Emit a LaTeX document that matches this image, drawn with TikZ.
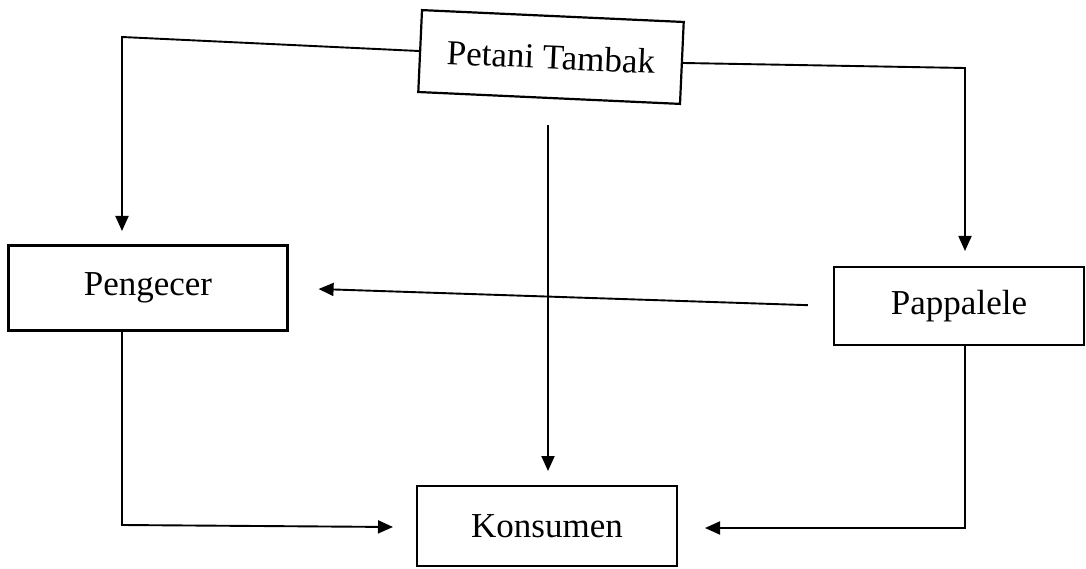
\documentclass[tikz,border=0pt]{standalone}
\usepackage{fontspec}
\setmainfont{Liberation Serif}
\usetikzlibrary{arrows.meta}
\begin{document}
\begin{tikzpicture}[x=1pt,y=-1pt,
  box/.style={draw,line width=2.2pt,inner sep=0pt,font=\fontsize{35}{40}\selectfont},
  conn/.style={line width=1.9pt},
  arr/.style={conn,-{Triangle[length=15pt,width=13pt]}}]
\useasboundingbox (0,0) rectangle (1086,569);
\node[box,minimum width=262pt,minimum height=82pt,rotate=-2.6] (pt) at (551,57) {Petani Tambak};
\node[box,minimum width=279pt,minimum height=85pt] (pen) at (148,288) {Pengecer};
\node[box,minimum width=250pt,minimum height=78pt] (pap) at (959,306) {Pappalele};
\node[box,minimum width=260pt,minimum height=80pt] (kon) at (547,526) {Konsumen};
% Petani -> Pengecer
\coordinate (a1) at (122,37);
\coordinate (a2) at (122,231);
\draw[arr] (pt.west) -- (a1) -- (a2);
% Petani -> Pappalele
\coordinate (b1) at (965,68);
\coordinate (b2) at (965,251);
\draw[arr] (pt.east) -- (b1) -- (b2);
% Petani -> Konsumen
\coordinate (c0) at (548,125);
\coordinate (c1) at (548,471);
\draw[arr] (c0) -- (c1);
% Pappalele -> Pengecer
\draw[arr,shorten <=25pt,shorten >=30pt] (pap.west) -- (pen.east);
% Pengecer -> Konsumen
\coordinate (d0) at (122,330);
\coordinate (d1) at (122,525);
\coordinate (d2) at (393,527);
\draw[arr] (d0) -- (d1) -- (d2);
% Pappalele -> Konsumen
\coordinate (e0) at (965,345);
\coordinate (e1) at (965,528);
\coordinate (e2) at (705,528);
\draw[arr] (e0) -- (e1) -- (e2);
\end{tikzpicture}
\end{document}
